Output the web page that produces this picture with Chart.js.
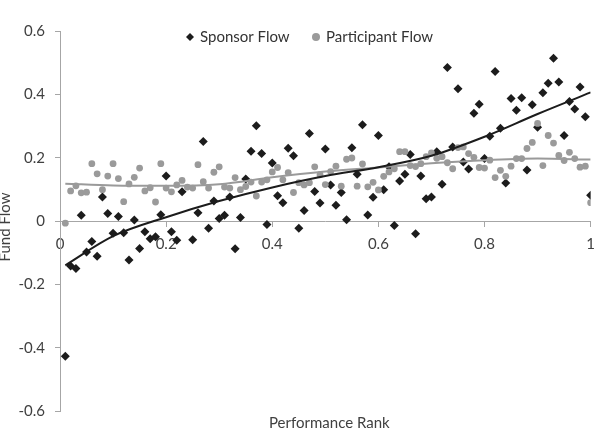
<!DOCTYPE html>
<html>
<head>
<meta charset="utf-8">
<script src="https://cdn.jsdelivr.net/npm/chart.js@4.4.1/dist/chart.umd.min.js"></script>
<style>
  body { margin: 0; background: #fff; }
</style>
</head>
<body>
<canvas id="flow-chart" width="604" height="432"></canvas>
<script>
// Performance rank (x) shared by both series
const rank = [
  0.01, 0.02, 0.03, 0.04, 0.05, 0.06, 0.07, 0.08, 0.09, 0.10,
  0.11, 0.12, 0.13, 0.14, 0.15, 0.16, 0.17, 0.18, 0.19, 0.20,
  0.21, 0.22, 0.23, 0.24, 0.25, 0.26, 0.27, 0.28, 0.29, 0.30,
  0.31, 0.32, 0.33, 0.34, 0.35, 0.36, 0.37, 0.38, 0.39, 0.40,
  0.41, 0.42, 0.43, 0.44, 0.45, 0.46, 0.47, 0.48, 0.49, 0.50,
  0.51, 0.52, 0.53, 0.54, 0.55, 0.56, 0.57, 0.58, 0.59, 0.60,
  0.61, 0.62, 0.63, 0.64, 0.65, 0.66, 0.67, 0.68, 0.69, 0.70,
  0.71, 0.72, 0.73, 0.74, 0.75, 0.76, 0.77, 0.78, 0.79, 0.80,
  0.81, 0.82, 0.83, 0.84, 0.85, 0.86, 0.87, 0.88, 0.89, 0.90,
  0.91, 0.92, 0.93, 0.94, 0.95, 0.96, 0.97, 0.98, 0.99, 1.00
];

const sponsorFlow = [
  -0.427, -0.142, -0.150, 0.018, -0.098, -0.065, -0.111, 0.076, 0.024, -0.039,
  0.014, -0.037, -0.123, 0.003, -0.087, -0.034, -0.056, -0.050, 0.020, 0.142,
  -0.034, -0.061, 0.092, null, -0.059, 0.026, 0.251, -0.023, 0.063, 0.008,
  0.018, 0.076, -0.088, 0.011, 0.133, 0.220, 0.301, 0.213, -0.011, 0.183,
  0.080, 0.058, 0.230, 0.206, -0.023, 0.033, 0.276, 0.093, 0.057, 0.227,
  0.114, 0.050, 0.090, 0.004, 0.231, 0.148, 0.304, 0.019, 0.075, 0.270,
  0.099, 0.171, -0.014, 0.126, 0.148, 0.210, -0.040, 0.142, 0.070, 0.076,
  0.219, 0.116, 0.485, 0.234, 0.418, 0.186, 0.164, 0.340, 0.369, 0.197,
  0.268, 0.472, 0.293, 0.120, 0.387, 0.350, 0.389, 0.161, 0.367, 0.296,
  0.405, 0.435, 0.514, 0.439, 0.270, 0.377, 0.354, 0.423, 0.329, 0.081
];

const participantFlow = [
  -0.007, 0.095, 0.111, 0.089, 0.091, 0.181, 0.149, 0.099, 0.142, 0.181,
  0.134, 0.061, 0.117, 0.138, 0.167, 0.095, 0.105, 0.060, 0.181, 0.104,
  0.092, 0.114, 0.128, 0.107, 0.104, 0.178, 0.124, 0.104, 0.154, 0.171,
  0.107, 0.104, 0.137, 0.099, 0.109, 0.123, 0.079, 0.123, 0.130, 0.155,
  0.169, 0.130, 0.153, 0.090, 0.121, 0.114, 0.121, 0.171, 0.146, 0.115,
  0.156, 0.173, 0.110, 0.195, 0.199, 0.110, 0.180, 0.108, 0.122, 0.098,
  0.141, 0.155, 0.165, 0.219, 0.219, 0.175, 0.172, 0.181, 0.203, 0.215,
  0.198, 0.203, 0.184, 0.165, 0.232, 0.234, 0.213, 0.201, 0.169, 0.167,
  0.192, 0.137, 0.160, 0.141, 0.173, 0.197, 0.197, 0.229, 0.248, 0.308,
  0.175, 0.270, 0.246, 0.207, 0.191, 0.217, 0.197, 0.170, 0.173, 0.058
];

// Trend lines
const trendRank = [0.01, 0.1, 0.2, 0.3, 0.4, 0.5, 0.6, 0.7, 0.8, 0.9, 1.0];
const sponsorTrend = [-0.140, -0.048, 0.012, 0.063, 0.106, 0.142, 0.170, 0.206, 0.266, 0.338, 0.406];
const participantTrend = [0.118, 0.112, 0.111, 0.116, 0.138, 0.156, 0.169, 0.182, 0.192, 0.197, 0.194];

function toPoints(xs, ys) {
    return xs.map((x, i) => ({ x: x, y: ys[i] })).filter(p => p.y !== null);
}

const textColor = '#404040';
const axisColor = '#a6a6a6';
const sponsorColor = '#1c1c1c';
const participantColor = '#9a9a9a';
const fontFamily = 'Lato, "Open Sans", sans-serif';
Chart.defaults.font.family = fontFamily;
Chart.defaults.font.size = 15;
Chart.defaults.color = textColor;

// Legend and axis titles drawn where the original puts them
const annotations = {
    id: 'annotations',
    afterDraw(chart) {
        const { ctx, chartArea } = chart;
        ctx.save();
        ctx.font = '15px ' + fontFamily;
        ctx.textBaseline = 'middle';

        // legend, overlapping the top of the plot
        const legendItems = [
            { x: 190, style: 'rectRot', color: sponsorColor, text: chart.data.datasets[0].label },
            { x: 316, style: 'circle', color: participantColor, text: chart.data.datasets[1].label }
        ];
        legendItems.forEach(item => {
            ctx.fillStyle = item.color;
            Chart.helpers.drawPoint(ctx, { pointStyle: item.style, radius: 4, borderWidth: 0 }, item.x, 37);
            ctx.fillStyle = '#333';
            ctx.textAlign = 'left';
            ctx.fillText(item.text, item.x + 10, 37);
        });

        // axis titles
        ctx.fillStyle = textColor;
        ctx.textAlign = 'center';
        ctx.fillText('Performance Rank', (chartArea.left + chartArea.right) / 2 + 4, 423);
        ctx.translate(5, 227);
        ctx.rotate(-Math.PI / 2);
        ctx.fillText('Fund Flow', 0, 0);
        ctx.restore();
    }
};

const shortNum = v => String(Number(v.toFixed(2)));

const ctx = document.getElementById('flow-chart').getContext('2d');
const flowChart = new Chart(ctx, {
    type: 'scatter',
    data: {
        datasets: [{
            label: 'Sponsor Flow',
            data: toPoints(rank, sponsorFlow),
            pointStyle: 'rectRot',
            pointRadius: 4.5,
            backgroundColor: sponsorColor,
            borderColor: sponsorColor,
            borderWidth: 0,
            order: 2
        }, {
            label: 'Participant Flow',
            data: toPoints(rank, participantFlow),
            pointStyle: 'circle',
            pointRadius: 3.4,
            backgroundColor: participantColor,
            borderColor: participantColor,
            borderWidth: 0,
            order: 1
        }, {
            label: 'Sponsor trend',
            data: toPoints(trendRank, sponsorTrend),
            showLine: true,
            pointRadius: 0,
            borderColor: sponsorColor,
            borderWidth: 2,
            cubicInterpolationMode: 'monotone',
            order: 0
        }, {
            label: 'Participant trend',
            data: toPoints(trendRank, participantTrend),
            showLine: true,
            pointRadius: 0,
            borderColor: participantColor,
            borderWidth: 2,
            cubicInterpolationMode: 'monotone',
            order: 0
        }]
    },
    options: {
        responsive: false,
        animation: false,
        layout: {
            padding: { left: 0, right: 8, top: 31, bottom: 21 }
        },
        scales: {
            x: {
                type: 'linear',
                position: { y: 0 },
                min: 0,
                max: 1,
                grid: { drawOnChartArea: false, drawTicks: true, tickLength: 5, color: axisColor },
                border: { display: true, color: axisColor },
                ticks: { stepSize: 0.2, padding: 9, color: textColor, callback: shortNum }
            },
            y: {
                min: -0.6,
                max: 0.6,
                afterFit: (scale) => { scale.width = 60; },
                grid: { drawOnChartArea: false, drawTicks: true, tickLength: 5, color: axisColor },
                border: { display: true, color: axisColor },
                ticks: { stepSize: 0.2, padding: 10, color: textColor, callback: shortNum }
            }
        },
        plugins: {
            legend: { display: false },
            tooltip: { enabled: false }
        }
    },
    plugins: [annotations]
});
</script>
</body>
</html>
